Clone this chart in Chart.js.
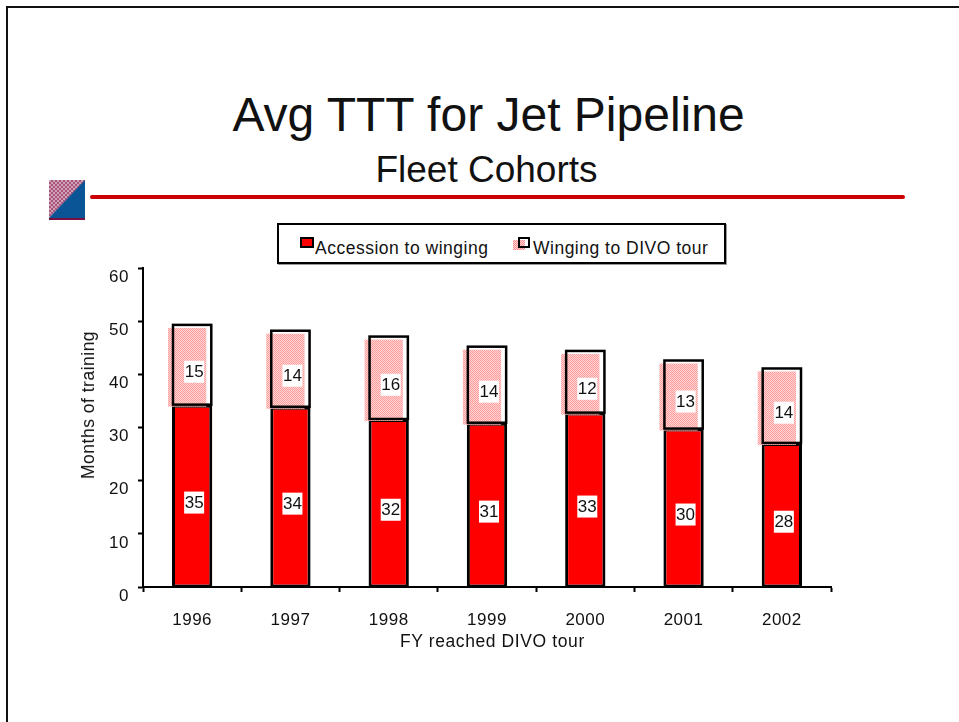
<!DOCTYPE html>
<html>
<head>
<meta charset="utf-8">
<title>Avg TTT for Jet Pipeline</title>
<script src="https://cdn.jsdelivr.net/npm/chart.js@4/dist/chart.umd.min.js"></script>
<style>
  html, body { margin: 0; padding: 0; background: #fff; overflow: hidden; }
  body { width: 959px; height: 722px; position: relative; font-family: "Liberation Sans", Arial, sans-serif; color: #111; }
  canvas { position: absolute; left: 0; top: 0; }
  .abs { position: absolute; white-space: nowrap; }
  #frameTop { left: 7px; top: 6px; right: 0; height: 2px; background: #111; }
  #frameLeft { left: 6px; top: 6px; bottom: 0; width: 2px; background: #111; }
  #title { left: 0; width: 977px; top: 88px; text-align: center; font-size: 48px; line-height: 54px; }
  #subtitle { left: 0; width: 973px; top: 150px; text-align: center; font-size: 37px; line-height: 40px; }
  #rule { left: 90px; top: 195px; width: 815px; height: 4px; background: #cc0000; border-radius: 2px; }
  #logo { left: 49px; top: 180px; width: 36px; height: 40px; background: #0a5596; overflow: hidden; border-bottom: 2px solid #7a1040; box-sizing: border-box; }
  #logo i { position: absolute; left: 0; top: 0; width: 36px; height: 38px; clip-path: polygon(0 0, 100% 0, 0 100%);
    background: repeating-conic-gradient(#a8547c 0 25%, #d0a0b4 0 50%) 0 0 / 4px 4px; }
  #legend { left: 277px; top: 223px; width: 445px; height: 37px; border: 2px solid #000; background: #fff; box-shadow: 1px 1px 0 #999; }
  .swatch { position: absolute; box-sizing: border-box; border: 2px solid #000; }
  .legtext { position: absolute; font-size: 17.5px; line-height: 20px; letter-spacing: .5px; }
  #pinkSwatch { position: absolute; left: 234px; top: 15px; width: 12px; height: 10px;
    background: repeating-conic-gradient(#ff8c8c 0 25%, #ffd4d4 0 50%) 0 0 / 2px 2px; }
  #xTitle { left: 400px; top: 631px; font-size: 17.5px; line-height: 20px; letter-spacing: .6px; }
  #yTitle { left: 88px; top: 405px; font-size: 17.5px; line-height: 20px; letter-spacing: .5px; transform: translate(-50%, -50%) rotate(-90deg); }
</style>
</head>
<body>
<div class="abs" id="frameTop"></div>
<div class="abs" id="frameLeft"></div>
<div class="abs" id="title">Avg TTT for Jet Pipeline</div>
<div class="abs" id="subtitle">Fleet Cohorts</div>
<div class="abs" id="logo"><i></i></div>
<div class="abs" id="rule"></div>
<div class="abs" id="legend">
  <div class="swatch" style="left:21px;top:12px;width:14px;height:11px;background:#f00"></div>
  <div class="legtext" id="leg1" style="left:36px;top:13px"></div>
  <div id="pinkSwatch"></div>
  <div class="swatch" style="left:239px;top:12px;width:12px;height:11px"></div>
  <div class="legtext" id="leg2" style="left:254px;top:13px"></div>
</div>
<canvas id="chart" width="959" height="722"></canvas>
<div class="abs" id="xTitle"></div>
<div class="abs" id="yTitle"></div>
<script>
var years = ["1996", "1997", "1998", "1999", "2000", "2001", "2002"];
var accessionToWinging = [34.3, 33.9, 31.6, 30.9, 32.8, 29.8, 27.1];
var wingingToDivo = [15.0, 14.3, 15.5, 14.3, 11.6, 12.8, 14.0];
var accessionLabels = ["35", "34", "32", "31", "33", "30", "28"];
var wingingLabels = ["15", "14", "16", "14", "12", "13", "14"];
var seriesNames = ["Accession to winging", "Winging to DIVO tour"];
var xAxisName = "FY reached DIVO tour";
var yAxisName = "Months of training";

var fontName = '"Liberation Sans", Arial, sans-serif';

document.getElementById('leg1').textContent = seriesNames[0];
document.getElementById('leg2').textContent = seriesNames[1];
document.getElementById('xTitle').textContent = xAxisName;
document.getElementById('yTitle').textContent = yAxisName;

// small checker tile for the pink hatch
function hatchPattern(ctx) {
    var tile = document.createElement('canvas');
    tile.width = 2;
    tile.height = 2;
    var t = tile.getContext('2d');
    t.fillStyle = '#ffd4d4';
    t.fillRect(0, 0, 2, 2);
    t.fillStyle = '#ff9c9c';
    t.fillRect(0, 0, 1, 1);
    t.fillRect(1, 1, 1, 1);
    return ctx.createPattern(tile, 'repeat');
}

// the original has its hatch and its value boxes shifted from the bar outline
var shiftedMarks = {
    id: 'shiftedMarks',
    beforeDraw: function(chart) {
        chart.ctx.letterSpacing = '0.5px';
    },
    afterDatasetsDraw: function(chart) {
        var ctx = chart.ctx;
        var red = chart.getDatasetMeta(0).data;
        var pink = chart.getDatasetMeta(1).data;
        ctx.save();
        ctx.letterSpacing = '0px';
        pink.forEach(function(bar) {
            var left = bar.x - bar.width / 2;
            ctx.fillStyle = hatchPattern(ctx);
            ctx.fillRect(left - 4, bar.y + 3, bar.width - 2, bar.base - bar.y - 1);
            ctx.strokeStyle = '#000';
            ctx.lineWidth = 2.5;
            ctx.strokeRect(left + 1, bar.y, bar.width - 2, bar.base - bar.y);
        });
        ctx.font = '17px ' + fontName;
        ctx.textAlign = 'center';
        ctx.textBaseline = 'middle';
        function valueBox(bar, text) {
            var cx = bar.x + 2;
            var cy = (bar.y + bar.base) / 2 + 7;
            ctx.fillStyle = '#fff';
            ctx.fillRect(cx - 10, cy - 11, 20, 22);
            ctx.fillStyle = '#111';
            ctx.fillText(text, cx, cy + 1);
        }
        red.forEach(function(bar, i) { valueBox(bar, accessionLabels[i]); });
        pink.forEach(function(bar, i) { valueBox(bar, wingingLabels[i]); });
        ctx.restore();
    }
};

var ctx = document.getElementById('chart').getContext('2d');
var chart = new Chart(ctx, {
    type: 'bar',
    data: {
        labels: years,
        datasets: [{
            label: seriesNames[0],
            data: accessionToWinging,
            backgroundColor: '#ff0000',
            borderColor: '#000',
            borderWidth: { left: 3, right: 3, top: 3, bottom: 2 },
            borderSkipped: false,
            barPercentage: 0.41,
            categoryPercentage: 1
        }, {
            label: seriesNames[1],
            data: wingingToDivo,
            backgroundColor: 'rgba(0,0,0,0)',
            borderColor: 'rgba(0,0,0,0)',
            borderWidth: 0,
            barPercentage: 0.41,
            categoryPercentage: 1
        }]
    },
    options: {
        responsive: false,
        animation: false,
        layout: { padding: { left: 73, top: 268, right: 128, bottom: 66 } },
        plugins: {
            legend: { display: false },
            title: { display: false },
            tooltip: { enabled: false }
        },
        scales: {
            x: {
                stacked: true,
                grid: { drawOnChartArea: false, color: '#000', tickLength: 5, tickWidth: 2 },
                border: { color: '#000', width: 2 },
                ticks: { color: '#111', font: { family: fontName, size: 17 }, padding: 18, maxRotation: 0 },
                afterFit: function(scale) { scale.height = 69; }
            },
            y: {
                stacked: true,
                min: 0,
                max: 60,
                grid: { drawOnChartArea: false, color: '#000', tickLength: 5, tickWidth: 2 },
                border: { color: '#000', width: 2 },
                ticks: { stepSize: 10, color: '#111', font: { family: fontName, size: 17 }, padding: 9, labelOffset: 9 },
                afterFit: function(scale) { scale.width = 70; }
            }
        }
    },
    plugins: [shiftedMarks]
});
</script>
</body>
</html>
